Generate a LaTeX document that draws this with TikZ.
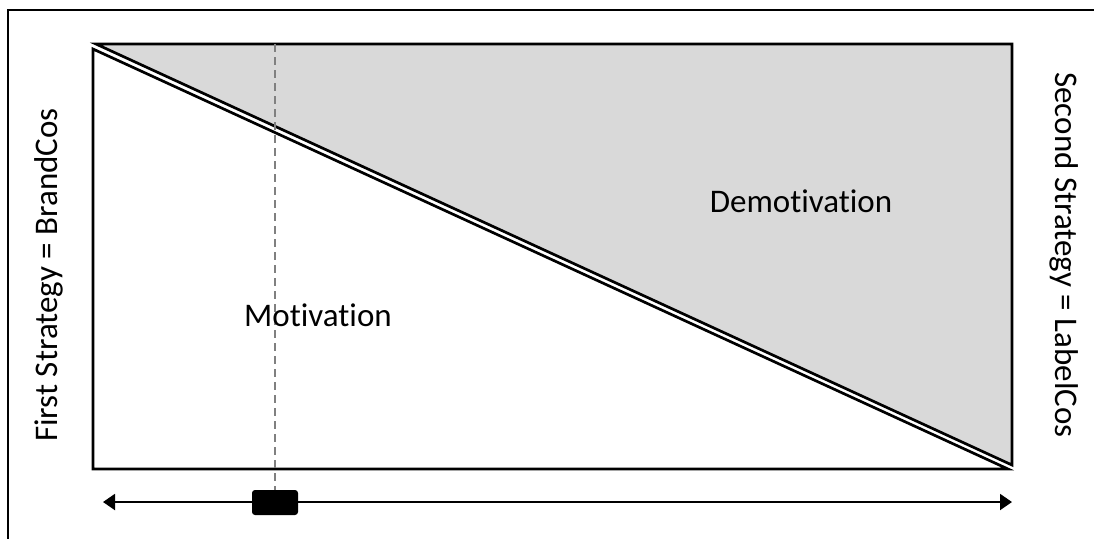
\documentclass[tikz,border=0pt]{standalone}
\usepackage{fontspec}
\setmainfont{Carlito}[Ligatures=NoCommon]
\usepackage{xcolor}
\usetikzlibrary{arrows.meta}
\definecolor{shadegray}{RGB}{217,217,217}
\definecolor{dashgray}{RGB}{128,128,128}
\tikzset{
  edge/.style={line width=1.35pt}
}
\begin{document}
\begin{tikzpicture}[x=0.5pt,y=-0.5pt,>={Triangle[length=6pt,width=8pt]},font=\fontsize{16.5}{20}\selectfont]
			% Khung
			\useasboundingbox (0,0) rectangle (1094,538);
			\begin{scope}
			\clip (0,0) rectangle (1094,538);
			\draw [line width=1pt] (8,10) rectangle (1120,560);
			\end{scope}
			% Hai tam giác
			\draw [edge,fill=shadegray] (96,44) -- (1012,44) -- (1012,465) -- cycle;
			\draw [edge,fill=white] (93,49) -- (93,469) -- (1008,469) -- cycle;
			% Trục dưới
			\coordinate (lend) at (103,502);
			\coordinate (rend) at (1012,502);
			\draw [<->,line width=1pt] (lend) -- (rend);
			\node [fill=black,rounded corners=1.5pt,minimum width=23pt,minimum height=12.5pt,inner sep=0pt] (slider) at (275,502.5) {};
			\coordinate (top) at (275,44);
			\draw [dashgray,line width=1pt,dash pattern=on 4pt off 2.5pt] (top) -- (slider.north);
			% Nhãn
			\node [anchor=base] (mot) at (318,326) {Motivation};
			\node [anchor=base] (demot) at (801,212) {Demotivation};
			\node [rotate=90,anchor=base] (first) at (57,275) {First Strategy = BrandCos};
			\node [rotate=-90,anchor=base] (second) at (1055,255) {Second Strategy = LabelCos};
		\end{tikzpicture}
\end{document}
